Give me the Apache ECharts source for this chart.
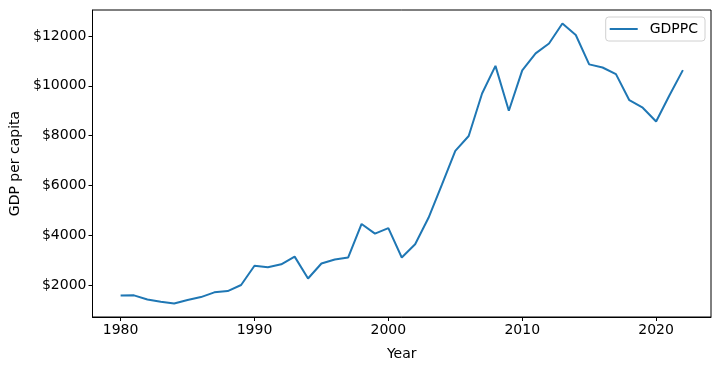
<!DOCTYPE html>
<html>
<head>
<meta charset="utf-8">
<script src="https://cdn.jsdelivr.net/npm/echarts@6/dist/echarts.min.js"></script>
<style>html,body{margin:0;padding:0;background:#fff}#c{width:722px;height:371px}</style>
</head>
<body>
<div id="c"></div>
<script>
const years = [1980,1981,1982,1983,1984,1985,1986,1987,1988,1989,1990,1991,1992,1993,1994,1995,1996,1997,1998,1999,2000,2001,2002,2003,2004,2005,2006,2007,2008,2009,2010,2011,2012,2013,2014,2015,2016,2017,2018,2019,2020,2021,2022];
const gdppc = [1575,1585,1415,1330,1255,1395,1515,1705,1755,2000,2775,2710,2830,3140,2260,2865,3025,3105,4450,4065,4285,3105,3635,4700,6030,7385,7985,9690,10800,9000,10620,11300,11700,12500,12040,10860,10735,10470,9420,9120,8565,9620,10630];
const xTicks = [1980,1990,2000,2010,2020];
const yTicks = [2000,4000,6000,8000,10000,12000];
const seriesName = 'GDPPC';

const font = 'DejaVu Sans';
const fs = 14;
const chart = echarts.init(document.getElementById('c'), null, {renderer: 'canvas'});
chart.setOption({
  animation: false,
  grid: {left: 92.5, right: 11, top: 10, bottom: 54, show: true, borderColor: '#000', borderWidth: 1, backgroundColor: 'transparent'},
  legend: {
    data: [{name: seriesName, icon: 'rect'}], right: 17, top: 17, orient: 'vertical',
    itemWidth: 28, itemHeight: 2, itemGap: 8,
    padding: [5, 7, 5, 4], borderColor: '#d0d0d0', borderWidth: 1, borderRadius: 3,
    textStyle: {fontFamily: font, fontSize: fs, color: '#000', padding: [0,0,0,7]}
  },
  xAxis: {
    type: 'value', min: 1977.9, max: 2024.1,
    name: 'Year', nameLocation: 'middle', nameGap: 30,
    nameTextStyle: {fontFamily: font, fontSize: fs, color: '#000'},
    axisLine: {show: true, lineStyle: {color: '#000', width: 1}},
    axisTick: {show: true, customValues: xTicks, length: 4, lineStyle: {color: '#000'}},
    axisLabel: {customValues: xTicks, fontFamily: font, fontSize: fs, color: '#000', margin: 6, formatter: v => String(v)},
    splitLine: {show: false}
  },
  yAxis: {
    type: 'value', min: 715, max: 13044,
    name: 'GDP per capita', nameLocation: 'middle', nameGap: 62,
    nameTextStyle: {fontFamily: font, fontSize: fs, color: '#000'},
    axisLine: {show: true, lineStyle: {color: '#000', width: 1}},
    axisTick: {show: true, customValues: yTicks, length: 4, lineStyle: {color: '#000'}},
    axisLabel: {customValues: yTicks, fontFamily: font, fontSize: fs, color: '#000', margin: 6, formatter: v => '$' + v},
    splitLine: {show: false}
  },
  series: [{
    name: seriesName, type: 'line', symbol: 'none',
    data: years.map((y, i) => [y, gdppc[i]]),
    lineStyle: {color: '#1f77b4', width: 2},
    itemStyle: {color: '#1f77b4'}
  }]
});
</script>
</body>
</html>
